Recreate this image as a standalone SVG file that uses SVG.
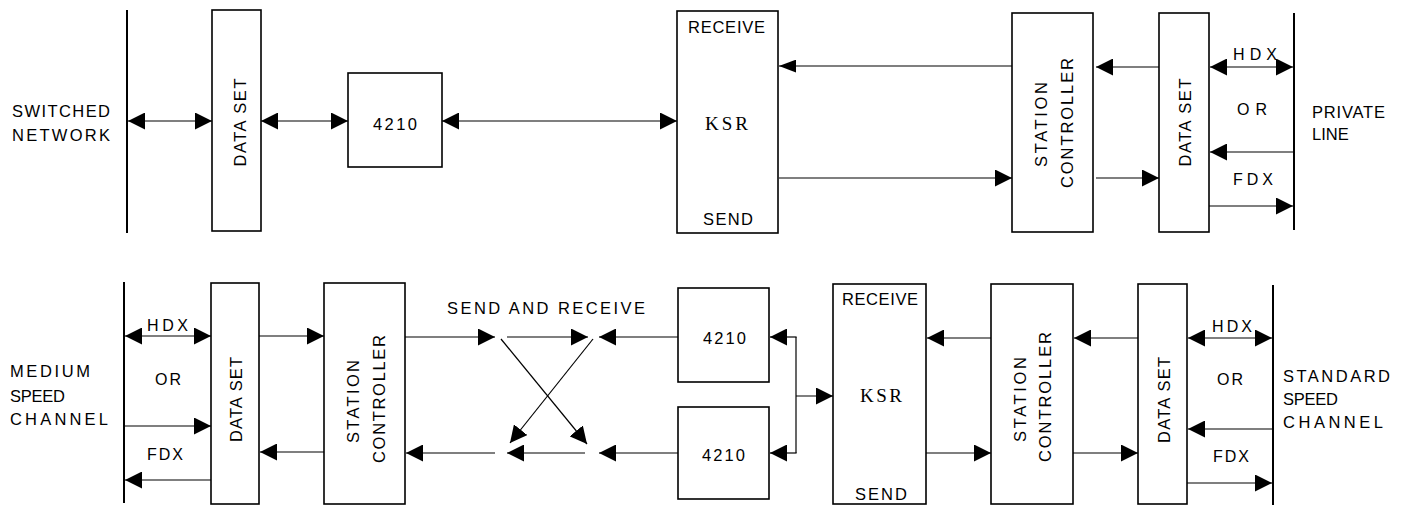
<svg xmlns="http://www.w3.org/2000/svg" width="1405" height="506" viewBox="0 0 1405 506">
<style>
.box{fill:#fff;stroke:#000;stroke-width:1.6}
.ch{stroke:#000;stroke-width:2;fill:none}
.c{stroke:#000;stroke-width:1.2;fill:none}
.a{marker-end:url(#ah)}
.d{marker-start:url(#ah);marker-end:url(#ah)}
.s{marker-end:url(#ahs)}
text{font-family:"Liberation Sans",Arial,sans-serif;font-size:16.5px;fill:#000}
.sm{font-size:16px}
.ksr{font-family:"Liberation Serif","Times New Roman",serif;font-size:19px}
.r{text-anchor:middle}
</style>
<defs>
<marker id="ah" markerUnits="userSpaceOnUse" markerWidth="17" markerHeight="17" refX="16" refY="8" orient="auto-start-reverse" viewBox="0 0 16 16">
<path d="M0,0 L16,8 L0,16 Z" fill="#000"/>
</marker>
<marker id="ahs" markerUnits="userSpaceOnUse" markerWidth="17" markerHeight="13" refX="16" refY="6" orient="auto-start-reverse" viewBox="0 0 16 12">
<path d="M0,0 L16,6 L0,12 Z" fill="#000"/>
</marker>
</defs>

<g id="switched-network">
<line class="ch" x1="127" y1="10" x2="127" y2="233"/>
<text x="12" y="117" textLength="98" lengthAdjust="spacing">SWITCHED</text>
<text x="12" y="141" textLength="98" lengthAdjust="spacing">NETWORK</text>
</g>
<g id="dataset-1">
<rect class="box" x="212" y="10" width="49" height="221"/>
<text class="r" transform="translate(240,122.5) rotate(-90)" y="6" textLength="88" lengthAdjust="spacing">DATA SET</text>
</g>
<g id="t4210-1">
<rect class="box" x="348" y="73" width="94" height="94"/>
<text x="373" y="130" textLength="44" lengthAdjust="spacing">4210</text>
</g>
<g id="ksr-1">
<rect class="box" x="677" y="11" width="101" height="222"/>
<text x="688" y="33" textLength="77" lengthAdjust="spacing">RECEIVE</text>
<text class="ksr" x="705" y="130" textLength="43" lengthAdjust="spacing">KSR</text>
<text x="703" y="225" textLength="50" lengthAdjust="spacing">SEND</text>
</g>
<g id="station-controller-1">
<rect class="box" x="1012" y="13" width="81" height="219"/>
<text class="r" transform="translate(1041,124.5) rotate(-90)" y="6" textLength="85" lengthAdjust="spacing">STATION</text>
<text class="r" transform="translate(1066.5,123) rotate(-90)" y="6" textLength="130" lengthAdjust="spacing">CONTROLLER</text>
</g>
<g id="dataset-2">
<rect class="box" x="1159" y="13" width="50" height="219"/>
<text class="r" transform="translate(1185,122.5) rotate(-90)" y="6" textLength="88" lengthAdjust="spacing">DATA SET</text>
</g>
<g id="private-line">
<line class="ch" x1="1294" y1="13" x2="1294" y2="230"/>
<text class="sm" x="1233" y="60" textLength="44" lengthAdjust="spacing">HDX</text>
<text class="sm" x="1237" y="115" textLength="30" lengthAdjust="spacing">OR</text>
<text class="sm" x="1233" y="185" textLength="40" lengthAdjust="spacing">FDX</text>
<text x="1312" y="118" textLength="73" lengthAdjust="spacing">PRIVATE</text>
<text x="1312" y="140">LINE</text>
</g>

<g id="medium-speed-channel">
<line class="ch" x1="124" y1="282" x2="124" y2="503"/>
<text x="10" y="377" textLength="80" lengthAdjust="spacing">MEDIUM</text>
<text x="10" y="402" textLength="55" lengthAdjust="spacing">SPEED</text>
<text x="10" y="425" textLength="98" lengthAdjust="spacing">CHANNEL</text>
<text class="sm" x="147" y="331" textLength="41" lengthAdjust="spacing">HDX</text>
<text class="sm" x="155" y="385" textLength="26" lengthAdjust="spacing">OR</text>
<text class="sm" x="147" y="460" textLength="36" lengthAdjust="spacing">FDX</text>
</g>
<g id="dataset-3">
<rect class="box" x="211" y="283" width="48" height="221"/>
<text class="r" transform="translate(236,399.5) rotate(-90)" y="6" textLength="85" lengthAdjust="spacing">DATA SET</text>
</g>
<g id="station-controller-2">
<rect class="box" x="324" y="283" width="81" height="221"/>
<text class="r" transform="translate(352.5,401.5) rotate(-90)" y="6" textLength="83" lengthAdjust="spacing">STATION</text>
<text class="r" transform="translate(378.5,399) rotate(-90)" y="6" textLength="128" lengthAdjust="spacing">CONTROLLER</text>
</g>
<g id="send-and-receive">
<text x="447" y="314" textLength="198" lengthAdjust="spacing">SEND AND RECEIVE</text>
</g>
<g id="t4210-2">
<rect class="box" x="678" y="288" width="91" height="94"/>
<text x="703" y="344" textLength="43" lengthAdjust="spacing">4210</text>
</g>
<g id="t4210-3">
<rect class="box" x="678" y="407" width="91" height="92"/>
<text x="702" y="461" textLength="43" lengthAdjust="spacing">4210</text>
</g>
<g id="ksr-2">
<rect class="box" x="833" y="284" width="93" height="220"/>
<text x="842" y="305" textLength="76" lengthAdjust="spacing">RECEIVE</text>
<text class="ksr" x="860" y="402" textLength="42" lengthAdjust="spacing">KSR</text>
<text x="855" y="500" textLength="52" lengthAdjust="spacing">SEND</text>
</g>
<g id="station-controller-3">
<rect class="box" x="991" y="284" width="82" height="220"/>
<text class="r" transform="translate(1019.5,399.5) rotate(-90)" y="6" textLength="85" lengthAdjust="spacing">STATION</text>
<text class="r" transform="translate(1045,397) rotate(-90)" y="6" textLength="130" lengthAdjust="spacing">CONTROLLER</text>
</g>
<g id="dataset-4">
<rect class="box" x="1138" y="284" width="49" height="220"/>
<text class="r" transform="translate(1164,400) rotate(-90)" y="6" textLength="86" lengthAdjust="spacing">DATA SET</text>
</g>
<g id="standard-speed-channel">
<line class="ch" x1="1273" y1="285" x2="1273" y2="505"/>
<text class="sm" x="1212" y="332" textLength="40" lengthAdjust="spacing">HDX</text>
<text class="sm" x="1217" y="385" textLength="26" lengthAdjust="spacing">OR</text>
<text class="sm" x="1213" y="462" textLength="36" lengthAdjust="spacing">FDX</text>
<text x="1283" y="382" textLength="107" lengthAdjust="spacing">STANDARD</text>
<text x="1283" y="405" textLength="55" lengthAdjust="spacing">SPEED</text>
<text x="1283" y="428" textLength="100" lengthAdjust="spacing">CHANNEL</text>
</g>

<g id="connectors">
<line class="c d" x1="128" y1="121" x2="212" y2="121"/>
<line class="c d" x1="261" y1="121" x2="348" y2="121"/>
<line class="c d" x1="442" y1="121" x2="677" y2="121"/>
<line class="c s" x1="1012" y1="66" x2="779" y2="66"/>
<line class="c a" x1="779" y1="178" x2="1012" y2="178"/>
<line class="c a" x1="1159" y1="67" x2="1096" y2="67"/>
<line class="c a" x1="1096" y1="178" x2="1159" y2="178"/>
<line class="c d" x1="1210" y1="67" x2="1293" y2="67"/>
<line class="c a" x1="1294" y1="152" x2="1210" y2="152"/>
<line class="c a" x1="1209" y1="206" x2="1293" y2="206"/>

<line class="c d" x1="125" y1="336" x2="211" y2="336"/>
<line class="c a" x1="124" y1="426" x2="211" y2="426"/>
<line class="c a" x1="211" y1="480" x2="125" y2="480"/>
<line class="c a" x1="259" y1="336" x2="324" y2="336"/>
<line class="c a" x1="324" y1="452" x2="260" y2="452"/>
<line class="c a" x1="405" y1="337" x2="495" y2="337"/>
<line class="c a" x1="507" y1="337" x2="588" y2="337"/>
<line class="c a" x1="678" y1="337" x2="599" y2="337"/>
<line class="c a" x1="501" y1="339" x2="587" y2="444"/>
<line class="c a" x1="593" y1="339" x2="510" y2="443"/>
<line class="c a" x1="678" y1="453" x2="599" y2="453"/>
<line class="c a" x1="585" y1="453" x2="507" y2="453"/>
<line class="c a" x1="495" y1="453" x2="406" y2="453"/>
<line class="c" x1="796" y1="337" x2="796" y2="453"/>
<line class="c a" x1="796.6" y1="337" x2="770" y2="337"/>
<line class="c a" x1="796.6" y1="453" x2="770" y2="453"/>
<line class="c a" x1="796" y1="396" x2="833" y2="396"/>
<line class="c a" x1="991" y1="338" x2="927" y2="338"/>
<line class="c a" x1="926" y1="453" x2="991" y2="453"/>
<line class="c a" x1="1138" y1="338" x2="1074" y2="338"/>
<line class="c a" x1="1073" y1="453" x2="1138" y2="453"/>
<line class="c d" x1="1188" y1="338" x2="1272" y2="338"/>
<line class="c a" x1="1273" y1="429" x2="1188" y2="429"/>
<line class="c a" x1="1187" y1="483" x2="1272" y2="483"/>
</g>
</svg>
